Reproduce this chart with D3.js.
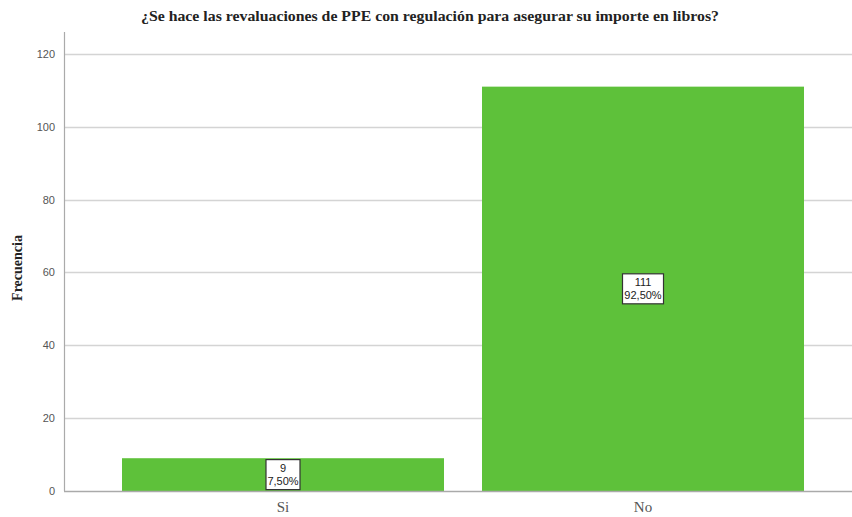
<!DOCTYPE html>
<html>
<head>
<meta charset="utf-8">
<script src="https://cdn.jsdelivr.net/npm/d3@7"></script>
<style>
  body { margin: 0; background: #fff; }
  svg { display: block; }
</style>
</head>
<body>
<div id="chart"></div>
<script>
// data
var categorias = ["Si", "No"];
var frecuencias = [9, 111];
var porcentajes = ["7,50%", "92,50%"];
var ticksY = [0, 20, 40, 60, 80, 100, 120];

var width = 852, height = 517;
var margin = {top: 32, right: 0, bottom: 26, left: 64};

var svg = d3.select("#chart").append("svg")
	.attr("width", width).attr("height", height);

var x = d3.scaleBand().domain(categorias)
	.range([122, 804]).paddingInner(0.1056).paddingOuter(0);
var y = d3.scaleLinear().domain([0, 126]).range([height - margin.bottom, margin.top]);

// gridlines
svg.append("g").selectAll("line").data(ticksY.filter(function(d) { return d > 0; }))
	.enter().append("line")
	.attr("x1", margin.left).attr("x2", width)
	.attr("y1", function(d) { return Math.round(y(d)) + 0.5; })
	.attr("y2", function(d) { return Math.round(y(d)) + 0.5; })
	.attr("stroke", "#d4d4d4").attr("stroke-width", 1.3);

// bars
svg.append("g").selectAll("rect").data(frecuencias).enter().append("rect")
	.attr("x", function(d, i) { return x(categorias[i]); })
	.attr("y", function(d) { return y(d); })
	.attr("width", x.bandwidth())
	.attr("height", function(d) { return y(0) - y(d); })
	.attr("fill", "#5ec13a");

// y axis
var yAxis = d3.axisLeft(y).tickValues(ticksY).tickSize(0).tickPadding(9);
var gy = svg.append("g").attr("transform", "translate(" + margin.left + ",0)").call(yAxis);
gy.select(".domain").remove();
gy.selectAll("text").attr("font-family", "Liberation Sans Narrow, Liberation Sans, sans-serif")
	.attr("font-size", 11).attr("fill", "#555");
svg.append("line").attr("x1", margin.left + 0.5).attr("x2", margin.left + 0.5)
	.attr("y1", margin.top).attr("y2", y(0)).attr("stroke", "#aaa").attr("stroke-width", 1.2);

// baseline
svg.append("line").attr("x1", margin.left).attr("x2", width)
	.attr("y1", y(0) + 0.5).attr("y2", y(0) + 0.5).attr("stroke", "#aaa").attr("stroke-width", 1.4);

// x axis labels
var xAxis = d3.axisBottom(x).tickSize(0).tickPadding(10);
var gx = svg.append("g").attr("transform", "translate(0," + y(0) + ")").call(xAxis);
gx.select(".domain").remove();
gx.selectAll("text").attr("font-family", "Liberation Serif, serif")
	.attr("font-size", 15).attr("fill", "#555");

// value labels
var lab = svg.append("g").selectAll("g").data(frecuencias).enter().append("g")
	.attr("transform", function(d, i) {
		return "translate(" + (x(categorias[i]) + x.bandwidth() / 2) + "," + ((y(d) + y(0)) / 2) + ")";
	});
lab.append("rect")
	.attr("x", function(d, i) { return i == 0 ? -17 : -20.5; })
	.attr("y", -15).attr("height", 30)
	.attr("width", function(d, i) { return i == 0 ? 34 : 41; })
	.attr("fill", "#fff").attr("stroke", "#333").attr("stroke-width", 1.2);
lab.append("text").attr("text-anchor", "middle").attr("y", -3)
	.attr("font-family", "Liberation Sans Narrow, Liberation Sans, sans-serif").attr("font-size", 11)
	.attr("fill", "#222").text(function(d) { return d; });
lab.append("text").attr("text-anchor", "middle").attr("y", 10)
	.attr("font-family", "Liberation Sans Narrow, Liberation Sans, sans-serif").attr("font-size", 11)
	.attr("fill", "#222").text(function(d, i) { return porcentajes[i]; });

// title
svg.append("text").attr("x", 430).attr("y", 21).attr("text-anchor", "middle")
	.attr("font-family", "Liberation Serif, serif").attr("font-weight", "bold").attr("font-size", 15)
	.attr("textLength", 578).attr("lengthAdjust", "spacingAndGlyphs")
	.attr("fill", "#222")
	.text("¿Se hace las revaluaciones de PPE con regulación para asegurar su importe en libros?");

// y label
svg.append("text").attr("transform", "translate(22," + 268 + ") rotate(-90)")
	.attr("text-anchor", "middle")
	.attr("font-family", "Liberation Serif, serif").attr("font-weight", "bold").attr("font-size", 14)
	.attr("fill", "#222").text("Frecuencia");
</script>
</body>
</html>
